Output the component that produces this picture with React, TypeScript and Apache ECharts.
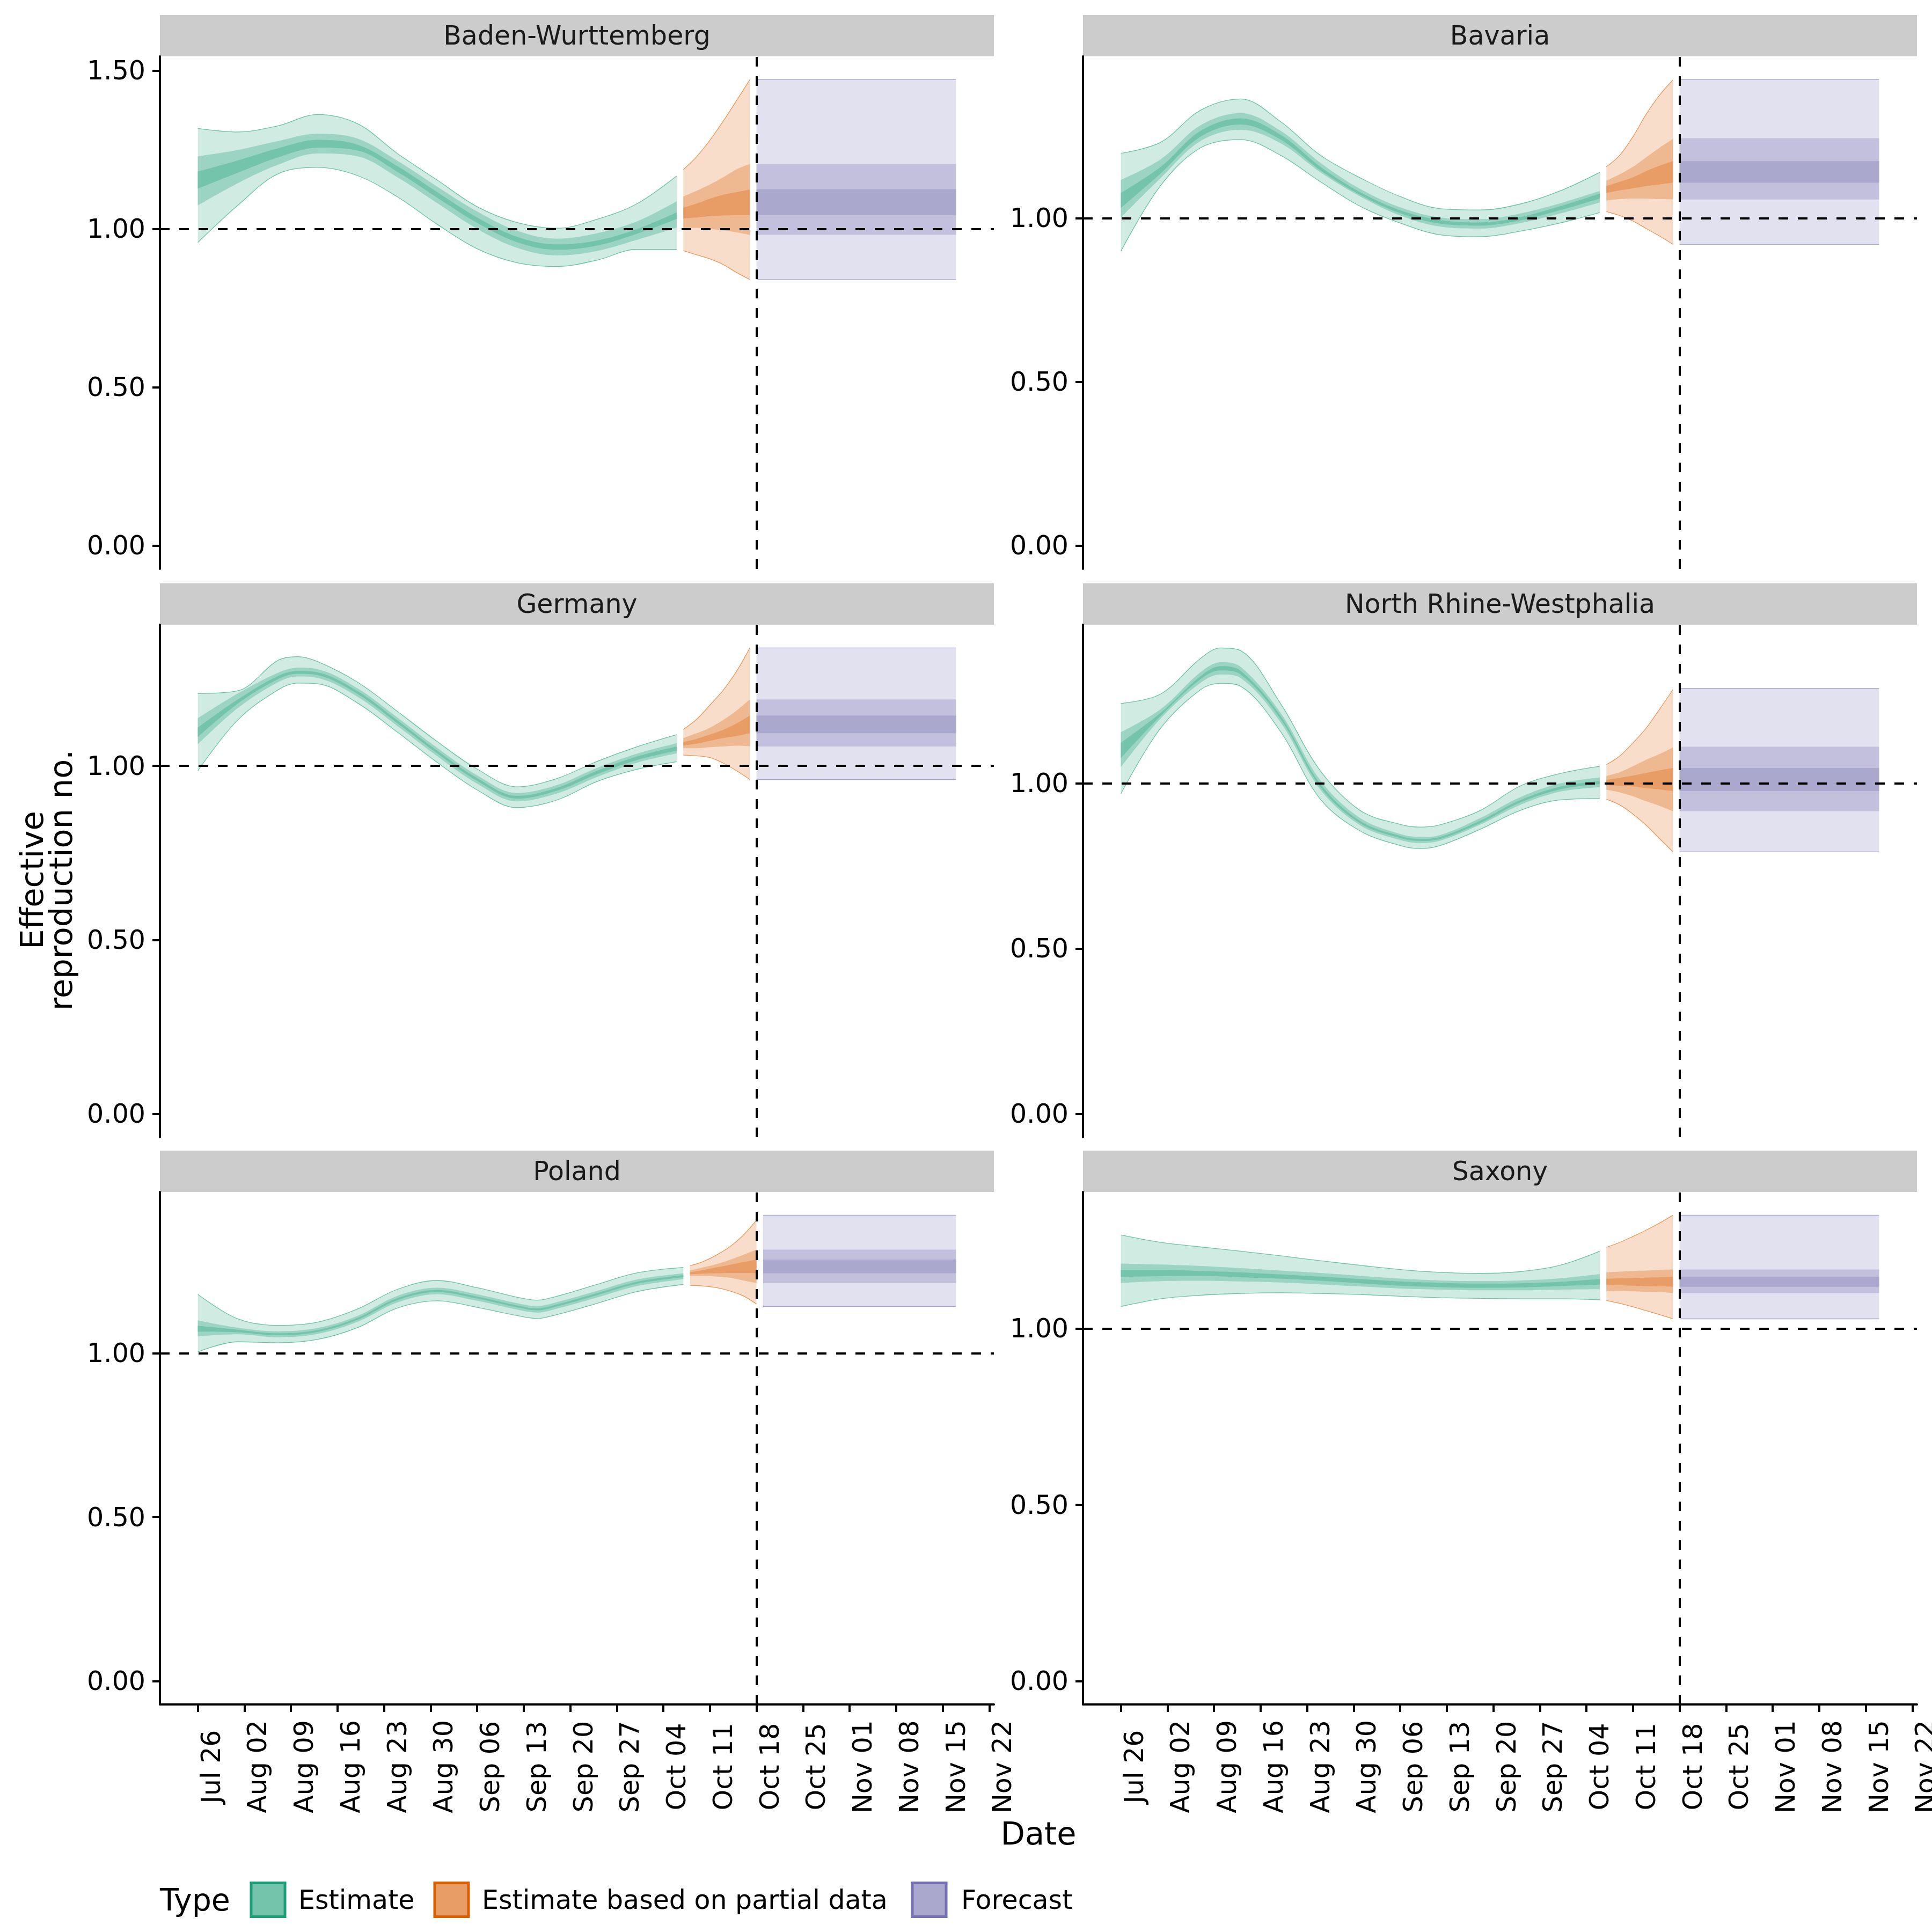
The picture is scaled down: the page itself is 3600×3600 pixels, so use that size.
import React, { useEffect, useRef } from "react";
import * as echarts from "echarts";

// ---------- data ----------
const FORECAST_DATE = "2020-10-18";

const TICK_DATES = [
  "2020-07-26", "2020-08-02", "2020-08-09", "2020-08-16", "2020-08-23", "2020-08-30",
  "2020-09-06", "2020-09-13", "2020-09-20", "2020-09-27", "2020-10-04", "2020-10-11",
  "2020-10-18", "2020-10-25", "2020-11-01", "2020-11-08", "2020-11-15", "2020-11-22",
];
const TICK_LABELS = [
  "Jul 26", "Aug 02", "Aug 09", "Aug 16", "Aug 23", "Aug 30", "Sep 06", "Sep 13", "Sep 20",
  "Sep 27", "Oct 04", "Oct 11", "Oct 18", "Oct 25", "Nov 01", "Nov 08", "Nov 15", "Nov 22",
];
const Y_TICKS = [0, 0.5, 1.0, 1.5];

const PANEL_NAMES = ["Baden-Wurttemberg", "Bavaria", "Germany", "North Rhine-Westphalia", "Poland", "Saxony"];
const TYPE_NAMES = ["Estimate", "Estimate based on partial data", "Forecast"];

const EST_DATES = [
  "2020-07-26", "2020-08-01", "2020-08-07", "2020-08-13", "2020-08-19", "2020-08-25", "2020-08-31",
  "2020-09-06", "2020-09-12", "2020-09-18", "2020-09-24", "2020-09-30", "2020-10-06",
];
const DE_EST_DATES = [
  "2020-07-26", "2020-08-01", "2020-08-07", "2020-08-10", "2020-08-13", "2020-08-19", "2020-08-25",
  "2020-08-31", "2020-09-06", "2020-09-12", "2020-09-18", "2020-09-24", "2020-09-30", "2020-10-06",
];
const NRW_EST_DATES = [
  "2020-07-26", "2020-08-01", "2020-08-07", "2020-08-10", "2020-08-13", "2020-08-19", "2020-08-25",
  "2020-08-31", "2020-09-06", "2020-09-09", "2020-09-12", "2020-09-18", "2020-09-24", "2020-09-30", "2020-10-06",
];
const POL_EST_DATES = [
  "2020-07-26", "2020-08-01", "2020-08-07", "2020-08-13", "2020-08-19", "2020-08-25", "2020-08-31",
  "2020-09-06", "2020-09-12", "2020-09-15", "2020-09-18", "2020-09-24", "2020-09-30", "2020-10-07",
];
const PART_DATES = ["2020-10-07", "2020-10-09", "2020-10-11", "2020-10-13", "2020-10-15", "2020-10-17"];
const POL_PART_DATES = ["2020-10-08", "2020-10-10", "2020-10-12", "2020-10-14", "2020-10-16", "2020-10-18"];
const FC_DATES = ["2020-10-18", "2020-11-17"];
const POL_FC_DATES = ["2020-10-19", "2020-11-17"];

// Baden-Wurttemberg
const BW_EST_LO90 = [0.957, 1.074, 1.173, 1.194, 1.168, 1.101, 1.014, 0.937, 0.893, 0.881, 0.901, 0.935, 0.935];
const BW_EST_LO50 = [1.074, 1.144, 1.202, 1.238, 1.229, 1.163, 1.081, 1.0, 0.94, 0.916, 0.93, 0.965, 1.004];
const BW_EST_LO20 = [1.127, 1.177, 1.225, 1.256, 1.247, 1.18, 1.098, 1.019, 0.958, 0.934, 0.947, 0.984, 1.031];
const BW_EST_HI20 = [1.181, 1.216, 1.254, 1.281, 1.266, 1.198, 1.116, 1.036, 0.975, 0.951, 0.963, 0.999, 1.052];
const BW_EST_HI50 = [1.229, 1.249, 1.277, 1.3, 1.285, 1.215, 1.133, 1.055, 0.994, 0.969, 0.986, 1.023, 1.087];
const BW_EST_HI90 = [1.317, 1.306, 1.325, 1.361, 1.332, 1.238, 1.154, 1.07, 1.02, 1.002, 1.03, 1.079, 1.167];
const BW_PART_LO90 = [0.931, 0.918, 0.905, 0.887, 0.862, 0.84];
const BW_PART_LO50 = [1.002, 1.003, 1.0, 0.995, 0.989, 0.981];
const BW_PART_LO20 = [1.033, 1.036, 1.04, 1.042, 1.043, 1.043];
const BW_PART_HI20 = [1.067, 1.08, 1.095, 1.108, 1.116, 1.124];
const BW_PART_HI50 = [1.102, 1.12, 1.14, 1.163, 1.188, 1.205];
const BW_PART_HI90 = [1.187, 1.228, 1.28, 1.34, 1.405, 1.471];
const BW_FC = [0.84, 0.981, 1.043, 1.125, 1.205, 1.471];

// Bavaria
const BY_EST_LO90 = [0.899, 1.1, 1.215, 1.24, 1.192, 1.111, 1.036, 0.985, 0.949, 0.943, 0.96, 0.985, 1.017];
const BY_EST_LO50 = [1.002, 1.123, 1.236, 1.27, 1.229, 1.14, 1.066, 1.008, 0.974, 0.968, 0.985, 1.014, 1.048];
const BY_EST_LO20 = [1.031, 1.137, 1.249, 1.286, 1.24, 1.146, 1.071, 1.015, 0.983, 0.977, 0.993, 1.024, 1.06];
const BY_EST_HI20 = [1.077, 1.157, 1.267, 1.305, 1.255, 1.157, 1.079, 1.024, 0.994, 0.987, 1.003, 1.036, 1.075];
const BY_EST_HI50 = [1.117, 1.18, 1.284, 1.321, 1.267, 1.169, 1.089, 1.033, 1.002, 0.997, 1.014, 1.045, 1.083];
const BY_EST_HI90 = [1.198, 1.232, 1.33, 1.364, 1.295, 1.192, 1.123, 1.066, 1.029, 1.025, 1.043, 1.083, 1.14];
const BY_PART_LO90 = [1.02, 1.008, 0.991, 0.968, 0.945, 0.92];
const BY_PART_LO50 = [1.054, 1.058, 1.06, 1.06, 1.058, 1.057];
const BY_PART_LO20 = [1.077, 1.085, 1.091, 1.098, 1.103, 1.108];
const BY_PART_HI20 = [1.098, 1.111, 1.125, 1.144, 1.16, 1.174];
const BY_PART_HI50 = [1.114, 1.134, 1.157, 1.186, 1.215, 1.242];
const BY_PART_HI90 = [1.157, 1.192, 1.249, 1.318, 1.376, 1.422];
const BY_FC = [0.92, 1.057, 1.108, 1.174, 1.244, 1.423];

// Germany
const DE_EST_LO90 = [0.986, 1.132, 1.218, 1.238, 1.236, 1.181, 1.097, 1.01, 0.931, 0.88, 0.902, 0.955, 0.99, 1.012];
const DE_EST_LO50 = [1.062, 1.166, 1.24, 1.257, 1.253, 1.199, 1.115, 1.028, 0.949, 0.898, 0.921, 0.968, 1.009, 1.036];
const DE_EST_LO20 = [1.083, 1.179, 1.249, 1.265, 1.261, 1.207, 1.123, 1.036, 0.957, 0.906, 0.929, 0.976, 1.017, 1.044];
const DE_EST_HI20 = [1.11, 1.191, 1.258, 1.273, 1.269, 1.215, 1.131, 1.044, 0.965, 0.914, 0.937, 0.986, 1.027, 1.056];
const DE_EST_HI50 = [1.137, 1.208, 1.267, 1.282, 1.278, 1.223, 1.139, 1.052, 0.973, 0.922, 0.945, 0.994, 1.035, 1.065];
const DE_EST_HI90 = [1.208, 1.216, 1.303, 1.314, 1.3, 1.241, 1.157, 1.07, 0.991, 0.94, 0.964, 1.013, 1.055, 1.09];
const DE_PART_LO90 = [1.031, 1.029, 1.024, 1.008, 0.986, 0.961];
const DE_PART_LO50 = [1.051, 1.051, 1.054, 1.056, 1.058, 1.056];
const DE_PART_LO20 = [1.059, 1.064, 1.072, 1.08, 1.086, 1.094];
const DE_PART_HI20 = [1.069, 1.078, 1.09, 1.104, 1.122, 1.145];
const DE_PART_HI50 = [1.08, 1.094, 1.11, 1.132, 1.159, 1.191];
const DE_PART_HI90 = [1.105, 1.134, 1.175, 1.218, 1.272, 1.339];
const DE_FC = [0.961, 1.056, 1.094, 1.145, 1.191, 1.339];

// North Rhine-Westphalia
const NRW_EST_LO90 = [0.969, 1.168, 1.284, 1.303, 1.294, 1.157, 0.952, 0.856, 0.812, 0.803, 0.812, 0.861, 0.918, 0.95, 0.954];
const NRW_EST_LO50 = [1.049, 1.197, 1.305, 1.33, 1.319, 1.185, 0.981, 0.873, 0.829, 0.82, 0.827, 0.875, 0.935, 0.975, 0.989];
const NRW_EST_LO20 = [1.077, 1.205, 1.316, 1.342, 1.33, 1.195, 0.989, 0.879, 0.835, 0.826, 0.832, 0.88, 0.942, 0.982, 0.998];
const NRW_EST_HI20 = [1.123, 1.214, 1.325, 1.355, 1.341, 1.205, 0.998, 0.886, 0.841, 0.832, 0.838, 0.887, 0.949, 0.99, 1.007];
const NRW_EST_HI50 = [1.155, 1.225, 1.337, 1.367, 1.353, 1.214, 1.009, 0.895, 0.847, 0.838, 0.844, 0.895, 0.958, 1.0, 1.018];
const NRW_EST_HI90 = [1.242, 1.271, 1.379, 1.41, 1.402, 1.242, 1.038, 0.918, 0.876, 0.868, 0.875, 0.918, 0.992, 1.03, 1.052];
const NRW_PART_LO90 = [0.952, 0.935, 0.907, 0.873, 0.833, 0.793];
const NRW_PART_LO50 = [0.981, 0.973, 0.961, 0.946, 0.932, 0.916];
const NRW_PART_LO20 = [0.995, 0.993, 0.991, 0.986, 0.982, 0.977];
const NRW_PART_HI20 = [1.011, 1.017, 1.024, 1.032, 1.04, 1.047];
const NRW_PART_HI50 = [1.023, 1.034, 1.052, 1.072, 1.089, 1.109];
const NRW_PART_HI90 = [1.057, 1.083, 1.123, 1.168, 1.225, 1.284];
const NRW_FC = [0.793, 0.916, 0.977, 1.047, 1.111, 1.288];

// Poland
const PL_EST_LO90 = [1.004, 1.035, 1.032, 1.042, 1.078, 1.138, 1.16, 1.14, 1.115, 1.106, 1.118, 1.152, 1.188, 1.21];
const PL_EST_LO50 = [1.052, 1.058, 1.049, 1.059, 1.096, 1.155, 1.18, 1.16, 1.133, 1.124, 1.136, 1.17, 1.205, 1.226];
const PL_EST_LO20 = [1.066, 1.064, 1.055, 1.065, 1.102, 1.162, 1.187, 1.167, 1.14, 1.131, 1.143, 1.177, 1.212, 1.232];
const PL_EST_HI20 = [1.084, 1.072, 1.061, 1.071, 1.108, 1.168, 1.193, 1.173, 1.146, 1.137, 1.149, 1.183, 1.218, 1.238];
const PL_EST_HI50 = [1.1, 1.078, 1.067, 1.077, 1.114, 1.175, 1.2, 1.18, 1.153, 1.144, 1.156, 1.19, 1.225, 1.244];
const PL_EST_HI90 = [1.18, 1.105, 1.085, 1.095, 1.135, 1.195, 1.222, 1.2, 1.171, 1.162, 1.174, 1.21, 1.245, 1.262];
const PL_PART_LO90 = [1.207, 1.205, 1.2, 1.19, 1.175, 1.15];
const PL_PART_LO50 = [1.236, 1.236, 1.234, 1.23, 1.222, 1.214];
const PL_PART_LO20 = [1.241, 1.243, 1.244, 1.245, 1.245, 1.244];
const PL_PART_HI20 = [1.247, 1.254, 1.262, 1.27, 1.278, 1.286];
const PL_PART_HI50 = [1.252, 1.262, 1.272, 1.285, 1.3, 1.316];
const PL_PART_HI90 = [1.267, 1.28, 1.3, 1.325, 1.36, 1.406];
const PL_FC = [1.143, 1.214, 1.244, 1.286, 1.316, 1.421];

// Saxony
const SN_EST_LO90 = [1.063, 1.085, 1.095, 1.1, 1.102, 1.1, 1.097, 1.092, 1.088, 1.086, 1.085, 1.085, 1.082];
const SN_EST_LO50 = [1.13, 1.135, 1.136, 1.134, 1.131, 1.126, 1.12, 1.114, 1.111, 1.109, 1.109, 1.111, 1.112];
const SN_EST_LO20 = [1.147, 1.149, 1.15, 1.146, 1.142, 1.136, 1.129, 1.122, 1.118, 1.116, 1.117, 1.121, 1.125];
const SN_EST_HI20 = [1.167, 1.167, 1.164, 1.16, 1.154, 1.148, 1.141, 1.134, 1.13, 1.128, 1.129, 1.133, 1.141];
const SN_EST_HI50 = [1.185, 1.182, 1.178, 1.172, 1.165, 1.158, 1.15, 1.142, 1.137, 1.135, 1.137, 1.143, 1.155];
const SN_EST_HI90 = [1.266, 1.245, 1.232, 1.22, 1.207, 1.193, 1.18, 1.168, 1.16, 1.157, 1.162, 1.18, 1.22];
const SN_PART_LO90 = [1.08, 1.072, 1.062, 1.051, 1.04, 1.028];
const SN_PART_LO50 = [1.108, 1.107, 1.106, 1.105, 1.104, 1.101];
const SN_PART_LO20 = [1.124, 1.123, 1.122, 1.121, 1.12, 1.119];
const SN_PART_HI20 = [1.142, 1.143, 1.144, 1.145, 1.146, 1.147];
const SN_PART_HI50 = [1.16, 1.162, 1.164, 1.165, 1.167, 1.168];
const SN_PART_HI90 = [1.231, 1.245, 1.262, 1.28, 1.3, 1.322];
const SN_FC = [1.028, 1.101, 1.119, 1.147, 1.168, 1.322];

// ---------- styling ----------
const FONT = "DejaVu Sans";
const TYPE_COLORS = ["#1B9E77", "#D95F02", "#7570B3"];
const BAND_FILLS = [
  ["#CFEBE2", "#9BD4C3", "#74C4AC"],
  ["#F7DDCA", "#EEB990", "#E89D67"],
  ["#E2E1EF", "#C2C0DD", "#ABA8CD"],
];
const GRID_LEFT = [298, 2018];
const GRID_TOP = [105, 1164, 2221];
const GRID_W = 1554;
const GRID_H = 955;
const STRIP_H = 77;

const DAY = 86400000;
const ts = (iso: string) => Date.parse(iso + "T00:00:00Z");

type Bands = { dates: string[]; lo90: number[]; lo50: number[]; lo20: number[]; hi20: number[]; hi50: number[]; hi90: number[] };
const mk = (dates: string[], lo90: number[], lo50: number[], lo20: number[], hi20: number[], hi50: number[], hi90: number[]): Bands =>
  ({ dates, lo90, lo50, lo20, hi20, hi50, hi90 });
const fc = (dates: string[], v: number[]): Bands =>
  mk(dates, [v[0], v[0]], [v[1], v[1]], [v[2], v[2]], [v[3], v[3]], [v[4], v[4]], [v[5], v[5]]);

const PANELS: Bands[][] = [
  [mk(EST_DATES, BW_EST_LO90, BW_EST_LO50, BW_EST_LO20, BW_EST_HI20, BW_EST_HI50, BW_EST_HI90),
   mk(PART_DATES, BW_PART_LO90, BW_PART_LO50, BW_PART_LO20, BW_PART_HI20, BW_PART_HI50, BW_PART_HI90),
   fc(FC_DATES, BW_FC)],
  [mk(EST_DATES, BY_EST_LO90, BY_EST_LO50, BY_EST_LO20, BY_EST_HI20, BY_EST_HI50, BY_EST_HI90),
   mk(PART_DATES, BY_PART_LO90, BY_PART_LO50, BY_PART_LO20, BY_PART_HI20, BY_PART_HI50, BY_PART_HI90),
   fc(FC_DATES, BY_FC)],
  [mk(DE_EST_DATES, DE_EST_LO90, DE_EST_LO50, DE_EST_LO20, DE_EST_HI20, DE_EST_HI50, DE_EST_HI90),
   mk(PART_DATES, DE_PART_LO90, DE_PART_LO50, DE_PART_LO20, DE_PART_HI20, DE_PART_HI50, DE_PART_HI90),
   fc(FC_DATES, DE_FC)],
  [mk(NRW_EST_DATES, NRW_EST_LO90, NRW_EST_LO50, NRW_EST_LO20, NRW_EST_HI20, NRW_EST_HI50, NRW_EST_HI90),
   mk(PART_DATES, NRW_PART_LO90, NRW_PART_LO50, NRW_PART_LO20, NRW_PART_HI20, NRW_PART_HI50, NRW_PART_HI90),
   fc(FC_DATES, NRW_FC)],
  [mk(POL_EST_DATES, PL_EST_LO90, PL_EST_LO50, PL_EST_LO20, PL_EST_HI20, PL_EST_HI50, PL_EST_HI90),
   mk(POL_PART_DATES, PL_PART_LO90, PL_PART_LO50, PL_PART_LO20, PL_PART_HI20, PL_PART_HI50, PL_PART_HI90),
   fc(POL_FC_DATES, PL_FC)],
  [mk(EST_DATES, SN_EST_LO90, SN_EST_LO50, SN_EST_LO20, SN_EST_HI20, SN_EST_HI50, SN_EST_HI90),
   mk(PART_DATES, SN_PART_LO90, SN_PART_LO50, SN_PART_LO20, SN_PART_HI20, SN_PART_HI50, SN_PART_HI90),
   fc(FC_DATES, SN_FC)],
];

function ribbon(gi: number, key: string, dates: string[], lo: number[], hi: number[], fill: string, outline: string | null, smooth: number) {
  const xs = dates.map(ts);
  const stack = `g${gi}-${key}`;
  const lineStyle = outline ? { color: outline, width: 1.3, opacity: 0.6 } : { width: 0, opacity: 0 };
  const common = {
    type: "line", xAxisIndex: gi, yAxisIndex: gi, stack, symbol: "none", showSymbol: false,
    smooth, silent: true, animation: false, z: 2, lineStyle,
  };
  return [
    { ...common, data: xs.map((x, i) => [x, lo[i]]) },
    { ...common, data: xs.map((x, i) => [x, hi[i] - lo[i]]), areaStyle: { color: fill, opacity: 1 } },
  ];
}

function buildOption() {
  const grid: any[] = [];
  const xAxis: any[] = [];
  const yAxis: any[] = [];
  const series: any[] = [];
  const graphic: any[] = [];

  const allDates = PANELS.flat().flatMap((b) => b.dates).map(ts);
  const dMin = Math.min(...allDates);
  const dMax = Math.max(...allDates);
  const pad = 0.05 * (dMax - dMin);
  const tickTs = TICK_DATES.map(ts);

  PANELS.forEach((panel, gi) => {
    const col = gi % 2;
    const row = Math.floor(gi / 2);
    const left = GRID_LEFT[col];
    const top = GRID_TOP[row];
    grid.push({ left, top, width: GRID_W, height: GRID_H, containLabel: false, outerBoundsMode: "none" });

    // data axis (time), hidden
    xAxis.push({ type: "time", gridIndex: gi, min: dMin - pad, max: dMax + pad, show: false, splitLine: { show: false } });

    const M = Math.max(...panel.flatMap((b) => b.hi90));
    const yMax = 1.05 * M;
    const yt = Y_TICKS.filter((v) => v <= yMax);
    yAxis.push({
      type: "value", gridIndex: gi, min: -0.05 * M, max: yMax,
      axisLine: { show: true, onZero: false, lineStyle: { color: "#000", width: 4 } },
      axisTick: { show: true, length: 14, customValues: yt, lineStyle: { color: "#000", width: 4 } },
      axisLabel: {
        customValues: yt, margin: 27, fontSize: 49, fontFamily: FONT, color: "#000",
        formatter: (v: number) => v.toFixed(2),
      },
      splitLine: { show: false },
    });

    panel.forEach((b, ti) => {
      const sm = ti === 2 ? 0 : 0.35;
      series.push(...ribbon(gi, `${ti}-90`, b.dates, b.lo90, b.hi90, BAND_FILLS[ti][0], TYPE_COLORS[ti], sm));
      series.push(...ribbon(gi, `${ti}-50`, b.dates, b.lo50, b.hi50, BAND_FILLS[ti][1], null, sm));
      series.push(...ribbon(gi, `${ti}-20`, b.dates, b.lo20, b.hi20, BAND_FILLS[ti][2], null, sm));
    });

    series.push({
      type: "line", xAxisIndex: gi, yAxisIndex: gi, data: [[ts(FORECAST_DATE), 1]], symbol: "none",
      showSymbol: false, silent: true, lineStyle: { opacity: 0 }, z: 9,
      markLine: {
        silent: true, symbol: ["none", "none"], label: { show: false }, z: 10, animation: false,
        lineStyle: { color: "#000", width: 4, type: [18, 18] },
        emphasis: { disabled: true },
        data: [{ yAxis: 1 }, { xAxis: ts(FORECAST_DATE) }],
      },
    });

    // facet strip
    graphic.push({ type: "rect", shape: { x: left, y: top - STRIP_H, width: GRID_W, height: STRIP_H }, style: { fill: "#CCCCCC" }, silent: true });
    graphic.push({
      type: "text", x: left + GRID_W / 2, y: top - STRIP_H / 2,
      style: { text: PANEL_NAMES[gi], fontSize: 49, fontFamily: FONT, fill: "#1A1A1A", align: "center", verticalAlign: "middle", textAlign: "center", textVerticalAlign: "middle" },
      silent: true,
    });
  });

  // visible date axes for the bottom row (value scale in the same ms units)
  [4, 5].forEach((gi) => {
    xAxis.push({
      type: "value", gridIndex: gi, min: dMin - pad, max: dMax + pad, position: "bottom",
      axisLine: { show: true, onZero: false, lineStyle: { color: "#000", width: 4 } },
      axisTick: { show: true, length: 14, customValues: tickTs, lineStyle: { color: "#000", width: 4 } },
      axisLabel: {
        show: true, customValues: tickTs, rotate: 90, margin: 116, align: "center", verticalAlign: "top",
        fontSize: 49, lineHeight: 49, fontFamily: FONT, color: "#000",
        formatter: (v: number) => {
          const i = tickTs.findIndex((t) => Math.abs(t - v) < DAY / 2);
          return i >= 0 ? TICK_LABELS[i] : "";
        },
      },
      splitLine: { show: false },
    });
  });

  // axis titles
  graphic.push({
    type: "text", x: 1935, y: 3416,
    style: { text: "Date", fontSize: 59, fontFamily: FONT, fill: "#000", align: "center", verticalAlign: "middle", textAlign: "center", textVerticalAlign: "middle" },
    silent: true,
  });
  graphic.push({
    type: "text", x: 86, y: 1640, rotation: Math.PI / 2,
    style: { text: "Effective\nreproduction no.", fontSize: 59, lineHeight: 54, fontFamily: FONT, fill: "#000", align: "center", verticalAlign: "middle", textAlign: "center", textVerticalAlign: "middle" },
    silent: true,
  });

  // legend
  const LEG_Y = 3540;
  graphic.push({
    type: "text", x: 298, y: LEG_Y,
    style: { text: "Type", fontSize: 57, fontFamily: FONT, fill: "#000", align: "left", verticalAlign: "middle", textAlign: "left", textVerticalAlign: "middle" },
    silent: true,
  });
  const keyX = [468, 810, 1700];
  const labelX = [556, 898, 1791];
  TYPE_NAMES.forEach((name, i) => {
    graphic.push({
      type: "rect", shape: { x: keyX[i], y: LEG_Y - 31.5, width: 63, height: 63 },
      style: { fill: BAND_FILLS[i][2], stroke: TYPE_COLORS[i], lineWidth: 5 }, silent: true,
    });
    graphic.push({
      type: "text", x: labelX[i], y: LEG_Y,
      style: { text: name, fontSize: 49, fontFamily: FONT, fill: "#000", align: "left", verticalAlign: "middle", textAlign: "left", textVerticalAlign: "middle" },
      silent: true,
    });
  });

  return {
    animation: false,
    backgroundColor: "#FFFFFF",
    textStyle: { fontFamily: FONT },
    grid, xAxis, yAxis, series, graphic,
  };
}

export default function App() {
  const ref = useRef<HTMLDivElement>(null);
  useEffect(() => {
    if (!ref.current) return;
    const chart = echarts.init(ref.current, null, { renderer: "svg", width: 3600, height: 3600 });
    chart.setOption(buildOption() as any);
    return () => chart.dispose();
  }, []);
  return <div ref={ref} style={{ width: 3600, height: 3600, position: "absolute", left: 0, top: 0 }} />;
}
